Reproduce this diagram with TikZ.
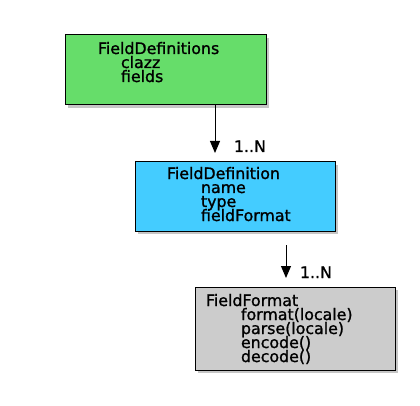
\documentclass[tikz,border=0pt]{standalone}
\usepackage{fontspec}
\setmainfont{DejaVu Sans}[FakeBold=1.2]
\usetikzlibrary{arrows.meta,shadows}
\definecolor{cgreen}{HTML}{66DD6A}
\definecolor{cblue}{HTML}{44CCFF}
\definecolor{cgray}{HTML}{CCCCCC}
\tikzset{
  box/.style={draw=black, line width=1pt, inner sep=0pt, outer sep=0pt,
    drop shadow={opacity=0.45, shadow xshift=3pt, shadow yshift=-3pt}},
  txt/.style={anchor=base west, inner sep=0pt, outer sep=0pt, font=\fontsize{15.8}{14}\selectfont},
  arr/.style={line width=1pt, -{Triangle[length=12pt,width=10pt]}},
}
\begin{document}
\begin{tikzpicture}[x=1pt,y=-1pt]
\useasboundingbox (0,0) rectangle (420,406);
% boxes
\node[box, fill=cgreen, minimum width=201pt, minimum height=70pt] (b1) at (165.5,70) {};
\node[box, fill=cblue, minimum width=200pt, minimum height=69pt] (b2) at (235,196.5) {};
\node[box, fill=cgray, minimum width=200pt, minimum height=83pt] (b3) at (295,328.5) {};
% texts box 1
\node[txt] (t1) at (98,54) {FieldDefinitions};
\node[txt] (t1a) at (121,68) {clazz};
\node[txt] (t1b) at (121,82) {fields};
% texts box 2
\node[txt] (t2) at (167,179) {FieldDefinition};
\node[txt] (t2a) at (201,193) {name};
\node[txt] (t2b) at (201,207) {type};
\node[txt] (t2c) at (201,221) {fieldFormat};
% texts box 3
\node[txt] (t3) at (206,306) {FieldFormat};
\node[txt] (t3a) at (241,320) {format(locale)};
\node[txt] (t3b) at (241,334) {parse(locale)};
\node[txt] (t3c) at (241,348) {encode()};
\node[txt] (t3d) at (241,362) {decode()};
% connectors
\coordinate (x1) at (215,0);
\coordinate (x2) at (286,0);
\draw[arr, shorten >=9pt] (b1.south -| x1) -- (b2.north -| x1);
\draw[arr, shorten <=14pt, shorten >=9pt] (b2.south -| x2) -- (b3.north -| x2);
\node[txt] (l1) at (234,152) {1..N};
\node[txt] (l2) at (300,278) {1..N};
\end{tikzpicture}
\end{document}
